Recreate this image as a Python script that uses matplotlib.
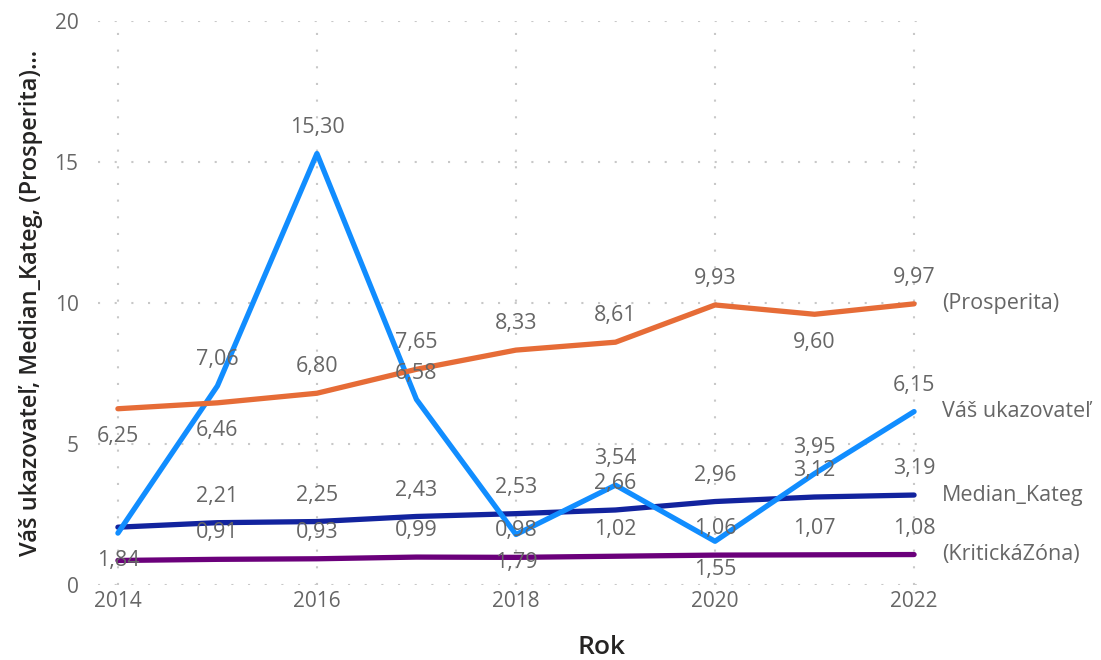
import matplotlib.pyplot as plt

plt.rcParams['font.family'] = ['Open Sans', 'DejaVu Sans']

# data
roky = [2014, 2015, 2016, 2017, 2018, 2019, 2020, 2021, 2022]
prosperita = [6.25, 6.46, 6.80, 7.65, 8.33, 8.61, 9.93, 9.60, 9.97]
vas_ukazovatel = [1.84, 7.06, 15.30, 6.58, 1.79, 3.54, 1.55, 3.95, 6.15]
median_kateg = [2.05, 2.21, 2.25, 2.43, 2.53, 2.66, 2.96, 3.12, 3.19]
kriticka_zona = [0.87, 0.91, 0.93, 0.99, 0.98, 1.02, 1.06, 1.07, 1.08]

# label placement: 'a' above, 'b' below, None hidden
pos_prosperita = ['b', 'b', 'a', 'a', 'a', 'a', 'a', 'b', 'a']
pos_vas = ['b', 'a', 'a', 'a', 'b', 'a', 'b', 'a', 'a']
pos_median = [None, 'a', 'a', 'a', 'a', 'a', 'a', 'a', 'a']
pos_kriticka = [None, 'a', 'a', 'a', 'a', 'a', 'a', 'a', 'a']

series = [
    ('(Prosperita)', prosperita, pos_prosperita, '#E66C37'),
    ('Váš ukazovateľ', vas_ukazovatel, pos_vas, '#118DFF'),
    ('Median_Kateg', median_kateg, pos_median, '#12239E'),
    ('(KritickáZóna)', kriticka_zona, pos_kriticka, '#6B007B'),
]


def main():
    fig = plt.figure(figsize=(11.01, 6.6), dpi=100)
    ax = fig.add_axes([98 / 1101, 75 / 660, 830 / 1101, 564 / 660])

    # lines first (kriticka at bottom)
    for name, vals, pos, col in reversed(series):
        ax.plot(roky, vals, color=col, linewidth=3.8, solid_capstyle='round',
                solid_joinstyle='round', zorder=3)

    for name, vals, pos, col in series:
        for x, y, p in zip(roky, vals, pos):
            if p is None:
                continue
            dy = 19 if p == 'a' else -20
            ax.annotate(f'{y:.2f}'.replace('.', ','), (x, y), xytext=(0, dy),
                        textcoords='offset points', ha='center', va='center',
                        fontsize=15.5, color='#666666', zorder=4)
        ax.annotate(name, (roky[-1], vals[-1]), xytext=(20, 0),
                    textcoords='offset points', ha='left', va='center',
                    fontsize=15.5, color='#666666', annotation_clip=False)

    ax.set_xlim(2013.8, 2022.14)
    ax.set_ylim(0, 20)
    ax.set_xticks([2014, 2016, 2018, 2020, 2022])
    ax.set_yticks([0, 5, 10, 15, 20])
    ax.grid(True, color='#C8C8C8', linestyle=(0, (1, 7)), linewidth=1.5)
    ax.set_axisbelow(True)
    for s in ax.spines.values():
        s.set_visible(False)
    ax.tick_params(axis='both', length=0, labelsize=15, labelcolor='#666666')
    ax.tick_params(axis='y', pad=14)
    ax.tick_params(axis='x', pad=4)

    # title "Rok" sits centred under plot + right labels
    ax.set_xlabel('Rok', fontsize=19, color='#252423', fontweight='semibold')
    ax.xaxis.set_label_coords(0.607, -0.088)
    ax.set_ylabel('Váš ukazovateľ, Median_Kateg, (Prosperita)...', fontsize=17,
                  color='#252423', fontweight='semibold', labelpad=8)

    fig.savefig('out.png', dpi=100)


if __name__ == '__main__':
    main()
